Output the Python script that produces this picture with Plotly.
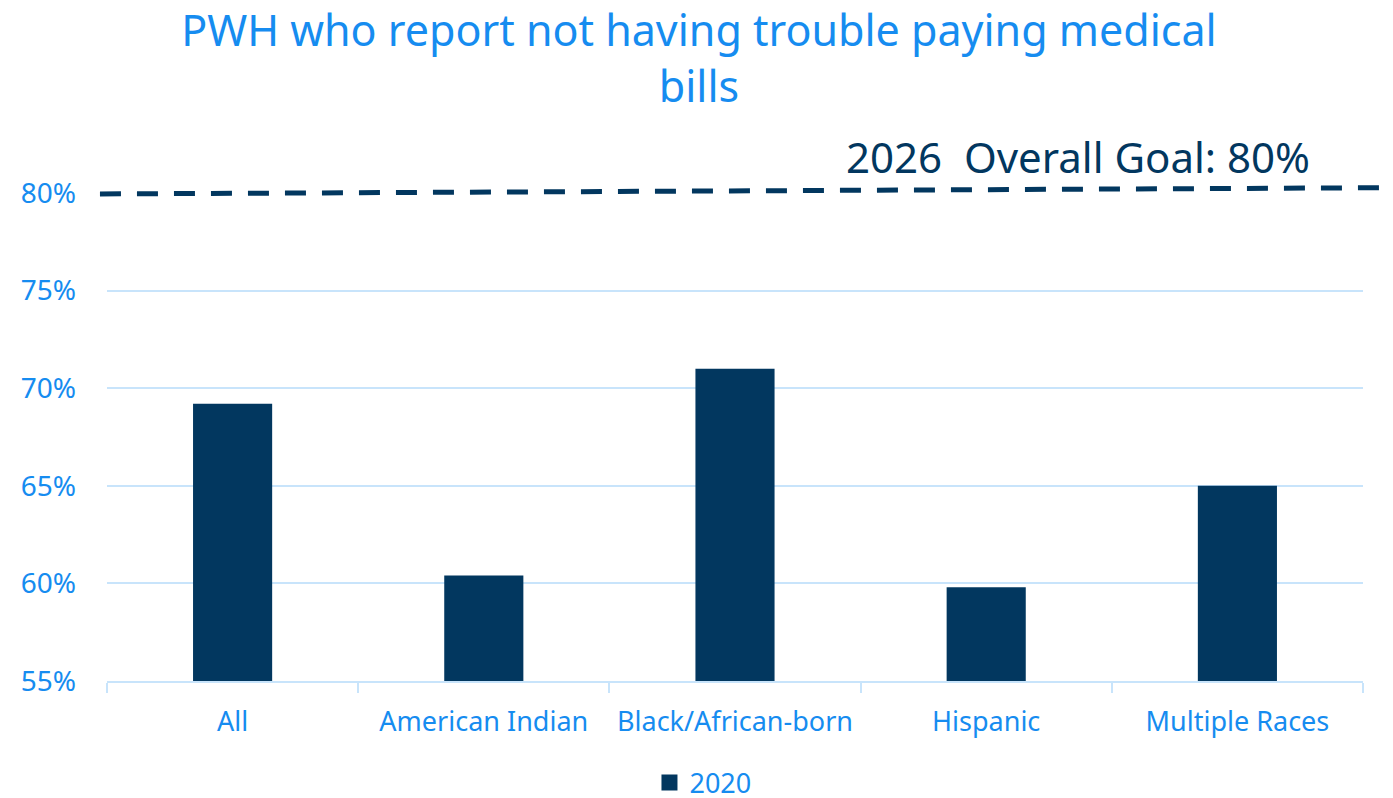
import plotly.graph_objects as go

categories = ["All", "American Indian", "Black/African-born", "Hispanic", "Multiple Races"]
values_2020 = [69.2, 60.4, 71.0, 59.8, 65.0]
goal_value = 80
series_name = "2020"
y_ticks = [55, 60, 65, 70, 75, 80]
y_tick_labels = ["55%", "60%", "65%", "70%", "75%", "80%"]

BLUE = "#168cf0"
NAVY = "#02375f"
GRID = "#c8e4fb"
FONT = "'Noto Sans', 'Open Sans', sans-serif"

fig = go.Figure()
fig.add_trace(go.Bar(
    x=categories, y=values_2020, name=series_name,
    marker=dict(color=NAVY, line=dict(width=0)),
    showlegend=False, legendgroup="s",
))
# legend proxy with a larger square swatch
fig.add_trace(go.Scatter(
    x=[None], y=[None], mode="markers", name=series_name, legendgroup="s",
    marker=dict(symbol="square", size=17, color=NAVY), showlegend=True,
))

# goal line (80% sits at the top of the y range -> paper y = 1)
fig.add_shape(type="line", xref="paper", yref="paper",
              x0=-0.0056, x1=1.03, y0=0.998, y1=1.011,
              line=dict(color=NAVY, width=5, dash="21px,16px"), layer="above")

fig.add_annotation(text="2026  Overall Goal: 80%", xref="paper", yref="paper",
                   x=0.959, y=1.074, xanchor="right", yanchor="middle",
                   showarrow=False, font=dict(family=FONT, size=42, color=NAVY))

fig.update_layout(
    width=1393, height=798,
    paper_bgcolor="white", plot_bgcolor="white",
    margin=dict(l=99, r=38, t=185, b=125, autoexpand=False),
    title=dict(text="PWH who report not having trouble paying medical<br>bills",
               x=0.496, xanchor="center", yref="container", y=0.952, yanchor="top",
               font=dict(family=FONT, size=43, color=BLUE)),
    bargap=0.685,
    font=dict(family=FONT, color=BLUE),
    legend=dict(orientation="h", x=0.4745, xanchor="center", yref="container", y=0.029, yanchor="middle",
                font=dict(family=FONT, size=27, color=BLUE), itemwidth=30),
    xaxis=dict(showgrid=False, showline=True, linecolor=GRID, linewidth=2, tickangle=0,
               ticks="outside", tickson="boundaries", ticklen=10, tickcolor=GRID, tickwidth=2,
               tickfont=dict(family=FONT, size=27, color=BLUE), ticklabelstandoff=16),
    yaxis=dict(range=[55, 80], tickvals=y_ticks, ticktext=y_tick_labels,
               showgrid=True, gridcolor=GRID, gridwidth=2, zeroline=False, showline=False,
               tickfont=dict(family=FONT, size=28, color=BLUE), ticklabelstandoff=30),
)

fig.write_html("out.html")
